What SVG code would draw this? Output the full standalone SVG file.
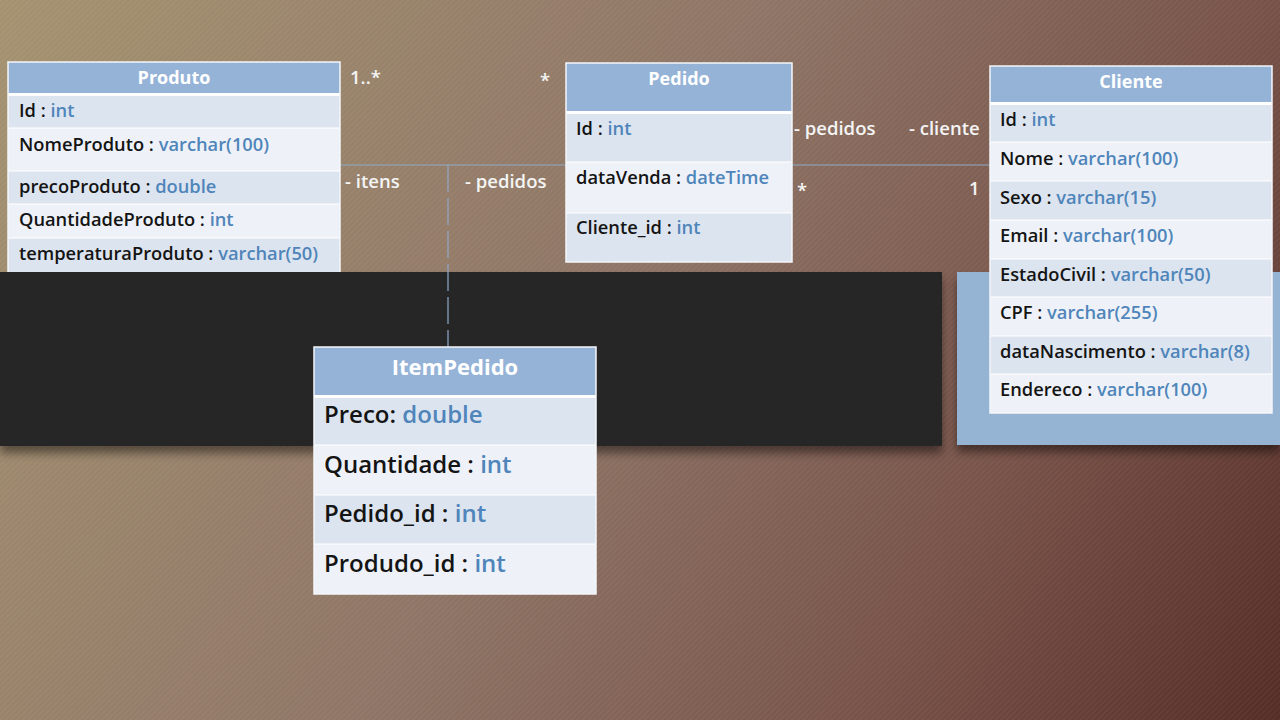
<svg xmlns="http://www.w3.org/2000/svg" width="1280" height="720" viewBox="0 0 1280 720">
<defs>
<linearGradient id="bg" x1="0" y1="0" x2="1280" y2="720" gradientUnits="userSpaceOnUse">
<stop offset="0" stop-color="#a4926f"/>
<stop offset="0.45" stop-color="#8e7566"/>
<stop offset="0.75" stop-color="#775248"/>
<stop offset="1" stop-color="#542c26"/>
</linearGradient>
<pattern id="hatch" width="4" height="4" patternUnits="userSpaceOnUse" patternTransform="rotate(45)">
<rect width="2" height="4" fill="#ffffff" opacity="0.04"/>
</pattern>
<filter id="sh" x="-10%" y="-20%" width="120%" height="160%">
<feDropShadow dx="0" dy="7" stdDeviation="5" flood-color="#000" flood-opacity="0.45"/>
</filter>
</defs>
<style>
.hdr{fill:#95b3d7}
.dk{fill:#dce4ef}
.lt{fill:#eef2f8}
.sep{stroke:#ffffff;stroke-width:1.2}
.frame{fill:none;stroke:#f4f6f9;stroke-width:1.5}
.t{font-family:"Open Sans","Liberation Sans",sans-serif;font-weight:600;font-size:18.3px;fill:#141414}
.tb{font-size:24px}
.ty{fill:#4f85ba}
.h{font-family:"Open Sans","Liberation Sans",sans-serif;font-weight:700;font-size:18px;fill:#ffffff;text-anchor:middle}
.hb{font-size:22px}
.lbl{font-family:"Open Sans","Liberation Sans",sans-serif;font-weight:600;font-size:18.5px;fill:#f4f4f4}
.con{stroke:#8fa9c6;stroke-width:1.2;fill:none}
</style>
<rect width="1280" height="720" fill="url(#bg)"/>
<rect width="1280" height="720" fill="url(#hatch)"/>

<g id="panels">
<rect x="0" y="272" width="942" height="174" fill="#262626" filter="url(#sh)"/>
<rect x="957" y="272" width="323" height="173" fill="#95b3d3" filter="url(#sh)"/>
</g>

<g id="connectors">
<line class="con" x1="340" y1="165" x2="566" y2="165"/>
<line class="con" x1="792" y1="165" x2="991" y2="165"/>
<line class="con" x1="448" y1="165" x2="448" y2="347" stroke-dasharray="27 6"/>
</g>

<g id="labels">
<text class="lbl" x="350" y="84">1..*</text>
<text class="lbl" x="540" y="87">*</text>
<text class="lbl" x="345" y="188">- itens</text>
<text class="lbl" x="465" y="188">- pedidos</text>
<text class="lbl" x="794" y="135">- pedidos</text>
<text class="lbl" x="909" y="135">- cliente</text>
<text class="lbl" x="797" y="197">*</text>
<text class="lbl" x="969" y="195">1</text>
</g>

<g id="produto">
<rect x="8" y="62" width="332" height="210" fill="#ffffff"/>
<rect class="hdr" x="8" y="62" width="332" height="31"/>
<rect class="dk" x="8" y="96" width="332" height="32"/>
<rect class="lt" x="8" y="128" width="332" height="43"/>
<rect class="dk" x="8" y="171" width="332" height="33"/>
<rect class="lt" x="8" y="204" width="332" height="34"/>
<rect class="dk" x="8" y="238" width="332" height="34"/>
<line class="sep" x1="8" y1="128" x2="340" y2="128"/>
<line class="sep" x1="8" y1="171" x2="340" y2="171"/>
<line class="sep" x1="8" y1="204" x2="340" y2="204"/>
<line class="sep" x1="8" y1="238" x2="340" y2="238"/>
<path class="frame" d="M8,272 V62 H340 V272"/>
<text class="h" x="174" y="84">Produto</text>
<text class="t" x="19" y="117">Id : <tspan class="ty">int</tspan></text>
<text class="t" x="19" y="151">NomeProduto : <tspan class="ty">varchar(100)</tspan></text>
<text class="t" x="19" y="193">precoProduto : <tspan class="ty">double</tspan></text>
<text class="t" x="19" y="226">QuantidadeProduto : <tspan class="ty">int</tspan></text>
<text class="t" x="19" y="260">temperaturaProduto : <tspan class="ty">varchar(50)</tspan></text>
</g>

<g id="pedido">
<rect x="566" y="63" width="226" height="199" fill="#ffffff"/>
<rect class="hdr" x="566" y="63" width="226" height="48"/>
<rect class="dk" x="566" y="114" width="226" height="48"/>
<rect class="lt" x="566" y="162" width="226" height="51"/>
<rect class="dk" x="566" y="213" width="226" height="49"/>
<line class="sep" x1="566" y1="162" x2="792" y2="162"/>
<line class="sep" x1="566" y1="213" x2="792" y2="213"/>
<rect class="frame" x="566" y="63" width="226" height="199"/>
<text class="h" x="679" y="85">Pedido</text>
<text class="t" x="576" y="135">Id : <tspan class="ty">int</tspan></text>
<text class="t" x="576" y="184">dataVenda : <tspan class="ty">dateTime</tspan></text>
<text class="t" x="576" y="234">Cliente_id : <tspan class="ty">int</tspan></text>
</g>

<g id="cliente">
<rect x="990" y="66" width="282" height="347" fill="#ffffff"/>
<rect class="hdr" x="990" y="66" width="282" height="36"/>
<rect class="dk" x="990" y="105" width="282" height="37"/>
<rect class="lt" x="990" y="142" width="282" height="39"/>
<rect class="dk" x="990" y="181" width="282" height="39"/>
<rect class="lt" x="990" y="220" width="282" height="39"/>
<rect class="dk" x="990" y="259" width="282" height="38"/>
<rect class="lt" x="990" y="297" width="282" height="39"/>
<rect class="dk" x="990" y="336" width="282" height="38"/>
<rect class="lt" x="990" y="374" width="282" height="39"/>
<line class="sep" x1="990" y1="142" x2="1272" y2="142"/>
<line class="sep" x1="990" y1="181" x2="1272" y2="181"/>
<line class="sep" x1="990" y1="220" x2="1272" y2="220"/>
<line class="sep" x1="990" y1="259" x2="1272" y2="259"/>
<line class="sep" x1="990" y1="297" x2="1272" y2="297"/>
<line class="sep" x1="990" y1="336" x2="1272" y2="336"/>
<line class="sep" x1="990" y1="374" x2="1272" y2="374"/>
<rect class="frame" x="990" y="66" width="282" height="347"/>
<text class="h" x="1131" y="88">Cliente</text>
<text class="t" x="1000" y="126">Id : <tspan class="ty">int</tspan></text>
<text class="t" x="1000" y="165">Nome : <tspan class="ty">varchar(100)</tspan></text>
<text class="t" x="1000" y="204">Sexo : <tspan class="ty">varchar(15)</tspan></text>
<text class="t" x="1000" y="242">Email : <tspan class="ty">varchar(100)</tspan></text>
<text class="t" x="1000" y="281">EstadoCivil : <tspan class="ty">varchar(50)</tspan></text>
<text class="t" x="1000" y="319">CPF : <tspan class="ty">varchar(255)</tspan></text>
<text class="t" x="1000" y="358">dataNascimento : <tspan class="ty">varchar(8)</tspan></text>
<text class="t" x="1000" y="396">Endereco : <tspan class="ty">varchar(100)</tspan></text>
</g>

<g id="itempedido">
<rect x="314" y="347" width="282" height="247" fill="#ffffff"/>
<rect class="hdr" x="314" y="347" width="282" height="48"/>
<rect class="dk" x="314" y="398" width="282" height="47"/>
<rect class="lt" x="314" y="445" width="282" height="50"/>
<rect class="dk" x="314" y="495" width="282" height="49"/>
<rect class="lt" x="314" y="544" width="282" height="50"/>
<line class="sep" x1="314" y1="445" x2="596" y2="445"/>
<line class="sep" x1="314" y1="495" x2="596" y2="495"/>
<line class="sep" x1="314" y1="544" x2="596" y2="544"/>
<rect class="frame" x="314" y="347" width="282" height="247"/>
<text class="h hb" x="455" y="375">ItemPedido</text>
<text class="t tb" x="324" y="423">Preco: <tspan class="ty">double</tspan></text>
<text class="t tb" x="324" y="473">Quantidade : <tspan class="ty">int</tspan></text>
<text class="t tb" x="324" y="522">Pedido_id : <tspan class="ty">int</tspan></text>
<text class="t tb" x="324" y="572">Produdo_id : <tspan class="ty">int</tspan></text>
</g>
</svg>
